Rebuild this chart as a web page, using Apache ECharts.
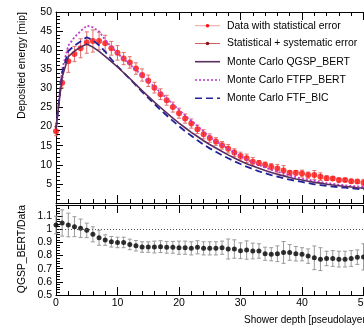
<!DOCTYPE html>
<html><head><meta charset="utf-8">
<script src="https://cdn.jsdelivr.net/npm/echarts@6/dist/echarts.min.js"></script>
<style>html,body{margin:0;padding:0;background:#fff}#c{width:364px;height:328px}</style>
</head><body><div id="c"></div>
<script>
// Shower depth (pseudolayer index)
const layers = [0,1,2,3,4,5,6,7,8,9,10,11,12,13,14,15,16,17,18,19,20,21,22,23,24,25,26,27,28,29,30,31,32,33,34,35,36,37,38,39,40,41,42,43,44,45,46,47,48,49,50,51];
// Data: deposited energy [mip]
const dataEnergy = [18.8,31.5,37.1,39.0,40.5,42.0,42.4,42.4,41.8,40.5,39.3,37.8,36.8,35.2,33.5,32.0,30.2,28.5,26.9,25.1,23.5,22.1,20.8,19.3,18.0,17.0,16.1,15.1,14.2,13.2,12.3,11.7,10.8,10.5,10.0,9.5,9.0,8.5,7.9,7.9,7.7,7.3,7.3,6.9,6.5,6.4,6.0,6.0,5.7,5.6,5.3,5.1];
// Statistical + systematic error
const dataErr = [1.2,1.4,2.9,2.0,2.5,2.8,2.9,2.3,2.1,1.8,1.9,1.6,1.5,1.5,1.6,1.5,1.4,1.4,1.3,1.3,1.3,1.2,1.2,1.1,1.2,1.1,1.0,1.0,1.1,1.0,1.0,1.1,1.1,0.6,0.7,0.8,1.1,1.3,0.5,0.6,0.9,0.8,1.2,1.0,0.6,0.4,0.5,0.4,0.5,0.4,0.9,0.5];
// Monte Carlo predictions
const mcQGSP = [19.5,33.0,38.3,39.8,40.8,41.6,40.8,39.7,38.4,37.0,35.6,34.1,32.6,31.0,29.4,27.9,26.4,25.0,23.6,22.2,20.9,19.7,18.5,17.4,16.3,15.3,14.4,13.5,12.6,11.8,11.0,10.3,9.7,9.1,8.5,8.0,7.5,7.1,6.7,6.3,6.0,5.7,5.4,5.2,4.9,4.7,4.5,4.3,4.2,4.0,3.9,3.8];
const mcFTFP = [19.5,35.0,41.2,43.4,45.0,46.4,46.0,44.9,42.7,40.9,39.2,37.7,36.3,34.8,33.4,31.8,30.4,28.9,27.4,25.9,24.4,22.9,21.5,20.2,18.7,17.3,16.2,15.2,14.2,13.2,12.2,11.3,10.6,9.9,9.3,8.7,8.2,7.7,7.2,6.8,6.4,6.1,5.8,5.5,5.2,5.0,4.8,4.6,4.45,4.35,4.25,4.1];
const mcFTFBIC = [19.5,34.0,39.8,41.2,42.3,43.4,42.6,41.3,39.6,37.6,35.8,34.1,32.5,30.8,29.1,27.5,25.9,24.4,22.9,21.5,20.1,18.8,17.6,16.4,15.3,14.3,13.4,12.5,11.7,10.9,10.2,9.5,8.9,8.3,7.8,7.3,6.9,6.5,6.1,5.8,5.5,5.2,4.9,4.7,4.5,4.3,4.1,4.0,3.85,3.7,3.6,3.5];
// Ratio QGSP_BERT / Data
const ratio = [1.033,1.048,1.033,1.02,1.008,0.992,0.962,0.936,0.918,0.905,0.90,0.90,0.885,0.875,0.865,0.865,0.865,0.868,0.863,0.863,0.86,0.86,0.855,0.863,0.855,0.855,0.855,0.86,0.85,0.85,0.837,0.842,0.835,0.835,0.814,0.81,0.814,0.824,0.824,0.814,0.81,0.796,0.783,0.773,0.778,0.778,0.773,0.773,0.778,0.788,0.79,0.79];
const ratioErr = [0.067,0.10,0.09,0.076,0.07,0.055,0.057,0.057,0.04,0.04,0.04,0.04,0.04,0.04,0.04,0.04,0.045,0.045,0.045,0.045,0.05,0.05,0.05,0.05,0.05,0.05,0.05,0.05,0.076,0.07,0.06,0.07,0.06,0.055,0.05,0.05,0.06,0.083,0.06,0.055,0.05,0.055,0.09,0.087,0.055,0.06,0.06,0.06,0.06,0.055,0.1,0.06];
// Legend labels
const legendLabels = ['Data with statistical error','Statistical + systematic error','Monte Carlo QGSP_BERT','Monte Carlo FTFP_BERT','Monte Carlo FTF_BIC'];
const xTitle = 'Shower depth [pseudolayer]';
const yTitleTop = 'Deposited energy [mip]';
const yTitleBottom = 'QGSP_BERT/Data';

const FONT = 'Liberation Sans, Arial, Helvetica, sans-serif';
const chart = echarts.init(document.getElementById('c'), null, {renderer:'canvas'});

function errRender(color, cap) {
  return function(params, api) {
    const x = api.value(0), y = api.value(1), e = api.value(2);
    const t = api.coord([x, y + e]), b = api.coord([x, y - e]);
    const cx = t[0];
    const st = {stroke: color, lineWidth: 1};
    return {type:'group', children:[
      {type:'line', shape:{x1:cx,y1:t[1],x2:cx,y2:b[1]}, style:st},
      {type:'line', shape:{x1:cx-cap,y1:t[1],x2:cx+cap,y2:t[1]}, style:st},
      {type:'line', shape:{x1:cx-cap,y1:b[1],x2:cx+cap,y2:b[1]}, style:st}
    ]};
  };
}

const axLine = {show:true, lineStyle:{color:'#000', width:1}};
function xAx(grid, pos, labels) {
  return {type:'value', gridIndex:grid, position:pos, min:0, max:60, interval:10,
    axisLine: axLine, splitLine:{show:false},
    axisTick:{show:true, inside:true, length:8, lineStyle:{color:'#000'}},
    minorTick:{show:true, splitNumber:5, length:4, lineStyle:{color:'#000'}},
    axisLabel: labels ? {show:true, color:'#000', fontSize:10.5, fontFamily:FONT, margin:3} : {show:false}
  };
}

const pairs = (ys) => layers.map((x,i)=>[x, ys[i]]);

const option = {
  animation:false,
  backgroundColor:'#fff',
  grid:[
    {left:56, top:12, width:369, height:191, outerBoundsMode:'none', containLabel:false},
    {left:56, top:205, width:369, height:90, outerBoundsMode:'none', containLabel:false}
  ],
  xAxis:[ xAx(0,'bottom',false), xAx(0,'top',false), xAx(1,'bottom',true), xAx(1,'top',false) ],
  yAxis:[
    {type:'value', gridIndex:0, min:0, max:50, interval:5,
     axisLine:axLine, splitLine:{show:false},
     axisTick:{show:true, inside:true, length:7, lineStyle:{color:'#000'}},
     minorTick:{show:true, splitNumber:5, length:4, lineStyle:{color:'#000'}},
     axisLabel:{color:'#000', fontSize:10.5, fontFamily:FONT, margin:4, showMinLabel:false}},
    {type:'value', gridIndex:1, min:0.5, max:1.185, interval:0.1,
     axisLine:axLine, splitLine:{show:false},
     axisTick:{show:true, inside:true, length:7, lineStyle:{color:'#000'}},
     minorTick:{show:true, splitNumber:5, length:4, lineStyle:{color:'#000'}},
     axisLabel:{color:'#000', fontSize:10.5, fontFamily:FONT, margin:4, showMaxLabel:false,
       formatter:(v)=> (Math.round(v*10)/10).toString()}}
  ],
  series:[
    {type:'line', name:legendLabels[3], xAxisIndex:0, yAxisIndex:0, data:pairs(mcFTFP), showSymbol:false,
     lineStyle:{color:'#c03ccc', width:1.8, type:[2,2]}},
    {type:'line', name:legendLabels[4], xAxisIndex:0, yAxisIndex:0, data:pairs(mcFTFBIC), showSymbol:false,
     lineStyle:{color:'#22229a', width:1.8, type:[7,4]}},
    {type:'line', name:legendLabels[2], xAxisIndex:0, yAxisIndex:0, data:pairs(mcQGSP), showSymbol:false,
     lineStyle:{color:'#5a2d5e', width:1.6}},
    {type:'custom', name:legendLabels[1], xAxisIndex:0, yAxisIndex:0,
     data: layers.map((x,i)=>[x, dataEnergy[i], dataErr[i]]),
     renderItem: errRender('#e07070', 2), encode:{x:0, y:1}},
    {type:'scatter', name:legendLabels[0], xAxisIndex:0, yAxisIndex:0, data:pairs(dataEnergy),
     symbol:'circle', symbolSize:6, itemStyle:{color:'#ff1010'}},
    {type:'custom', name:'ratio error', xAxisIndex:2, yAxisIndex:1,
     data: layers.map((x,i)=>[x, ratio[i], ratioErr[i]]),
     renderItem: errRender('#9a9a9a', 2), encode:{x:0, y:1}},
    {type:'scatter', name:'ratio', xAxisIndex:2, yAxisIndex:1, data:pairs(ratio),
     symbol:'circle', symbolSize:5, itemStyle:{color:'#000'},
     markLine:{silent:true, symbol:'none', label:{show:false},
       lineStyle:{color:'#555', width:1, type:[1,2]}, data:[{yAxis:1}]}}
  ],
  graphic:[
    {type:'text', x:22, y:12, rotation:Math.PI/2,
     style:{text:yTitleTop, fill:'#000', font:'10.4px '+FONT, textAlign:'right', textVerticalAlign:'middle'}},
    {type:'text', x:22, y:205, rotation:Math.PI/2,
     style:{text:yTitleBottom, fill:'#000', font:'10.4px '+FONT, textAlign:'right', textVerticalAlign:'middle'}},
    {type:'text', x:244, y:320,
     style:{text:xTitle, fill:'#000', font:'10px '+FONT, textAlign:'left', textVerticalAlign:'middle'}},
    // legend
    {type:'line', shape:{x1:195,y1:25.7,x2:220,y2:25.7}, style:{stroke:'#f2a0a0', lineWidth:1}},
    {type:'circle', shape:{cx:207.5, cy:25.7, r:1.8}, style:{fill:'#ff1010'}},
    {type:'text', x:227, y:25.7, style:{text:legendLabels[0], fill:'#000', font:'10.4px '+FONT, textVerticalAlign:'middle'}},
    {type:'line', shape:{x1:195,y1:43.5,x2:220,y2:43.5}, style:{stroke:'#d06060', lineWidth:1}},
    {type:'circle', shape:{cx:207.5, cy:43.5, r:1.8}, style:{fill:'#9a1010'}},
    {type:'text', x:227, y:43.5, style:{text:legendLabels[1], fill:'#000', font:'10.4px '+FONT, textVerticalAlign:'middle'}},
    {type:'line', shape:{x1:195,y1:61.7,x2:220,y2:61.7}, style:{stroke:'#5a2d5e', lineWidth:1.6}},
    {type:'text', x:227, y:61.7, style:{text:legendLabels[2], fill:'#000', font:'10.4px '+FONT, textVerticalAlign:'middle'}},
    {type:'line', shape:{x1:195,y1:80,x2:220,y2:80}, style:{stroke:'#c03ccc', lineWidth:1.6, lineDash:[2,2]}},
    {type:'text', x:227, y:80, style:{text:legendLabels[3], fill:'#000', font:'10.4px '+FONT, textVerticalAlign:'middle'}},
    {type:'line', shape:{x1:195,y1:98.3,x2:220,y2:98.3}, style:{stroke:'#22229a', lineWidth:1.6, lineDash:[7,4]}},
    {type:'text', x:227, y:98.3, style:{text:legendLabels[4], fill:'#000', font:'10.4px '+FONT, textVerticalAlign:'middle'}}
  ]
};
chart.setOption(option);
</script></body></html>
